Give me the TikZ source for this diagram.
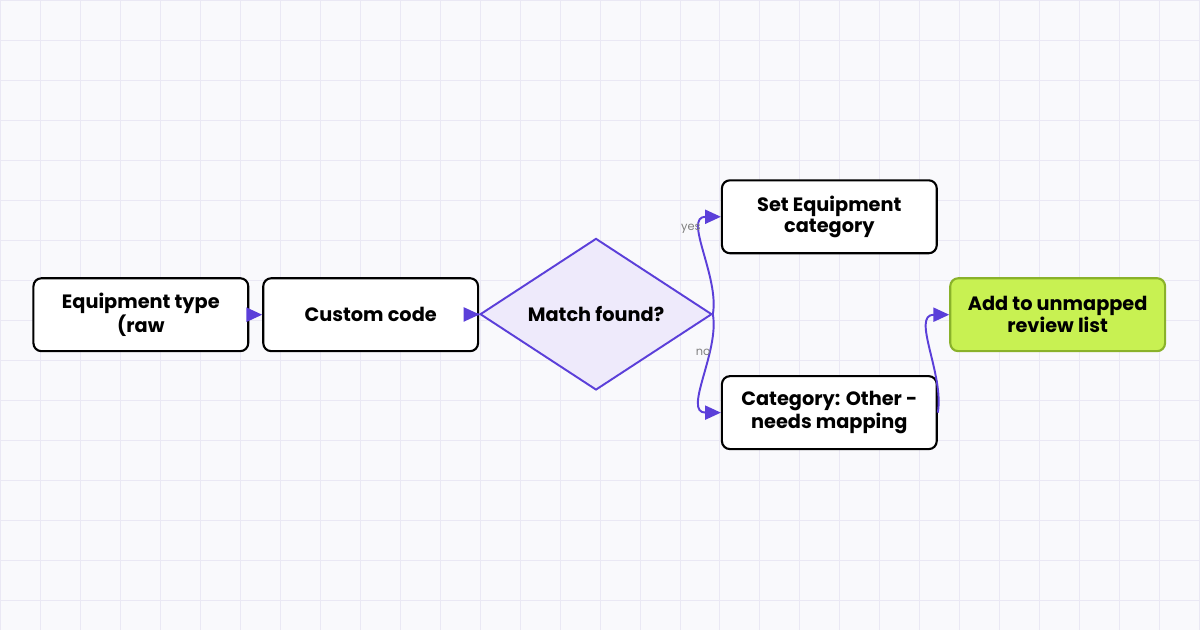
\documentclass[tikz,border=0pt]{standalone}
\usepackage{fontspec}
\setmainfont{Poppins}
\usetikzlibrary{shapes.geometric,arrows.meta}
\definecolor{gridline}{HTML}{EAE8F4}
\definecolor{edgepurple}{HTML}{5B3FD9}
\definecolor{diamondfill}{HTML}{EEEAFB}
\definecolor{limefill}{HTML}{C8F152}
\definecolor{limeline}{HTML}{8AB22A}
\tikzset{
	stepbox/.style={draw=black,line width=1.2pt,rounded corners=0.16cm,fill=white,
		minimum width=4.3cm,minimum height=1.46cm,align=center,
		font=\bfseries\fontsize{11}{10.5}\selectfont},
	decision/.style={diamond,draw=edgepurple,line width=1.1pt,fill=diamondfill,
		minimum width=4.64cm,minimum height=1.6cm,inner sep=0pt,
		font=\bfseries\fontsize{11}{10.5}\selectfont},
	flow/.style={draw=edgepurple,line width=1.1pt,-{Triangle[length=9pt,width=8pt]}},
	edgelabel/.style={font=\fontsize{6.5}{7}\selectfont,text=gray}
}
\begin{document}
\begin{tikzpicture}[x=0.02cm,y=-0.02cm]
	
	% background and grid
	\fill[fill={rgb,255:red,249;green,249;blue,252}] (0,0) rectangle (1200,630);
	\foreach \gx in {0,40,...,1200}
		\draw[gridline,line width=0.5pt] (\gx,0) -- (\gx,630);
	\foreach \gy in {0,40,...,630}
		\draw[gridline,line width=0.5pt] (0,\gy) -- (1200,\gy);
	\useasboundingbox (0,0) rectangle (1200,630);
	
	% nodes
	\node[stepbox] (rawtype) at (140.5,314.5) {Equipment type\\(raw};
	\node[stepbox] (custom) at (370.5,314.5) {Custom code};
	\node[decision] (match) at (596,314) {Match found?};
	\node[stepbox] (setcat) at (829.5,216.5) {Set Equipment\\category};
	\node[stepbox] (othercat) at (829.5,412.5) {Category: Other -\\needs mapping};
	\node[stepbox,fill=limefill,draw=limeline] (review) at (1058,314.5) {Add to unmapped\\review list};
	
	% connectors
	\draw[flow] (rawtype) -- (custom);
	\draw[flow] (custom) -- (match);
	\draw[flow] (match.east) to[out=80,in=180] node[edgelabel,pos=0.72,left=-2pt] {yes} (setcat.west);
	\draw[flow] (match.east) to[out=-80,in=180] node[edgelabel,pos=0.3,left=-4pt] {no} (othercat.west);
	\draw[flow] (othercat.east) to[out=80,in=180] (review.west);
	
\end{tikzpicture}
\end{document}
